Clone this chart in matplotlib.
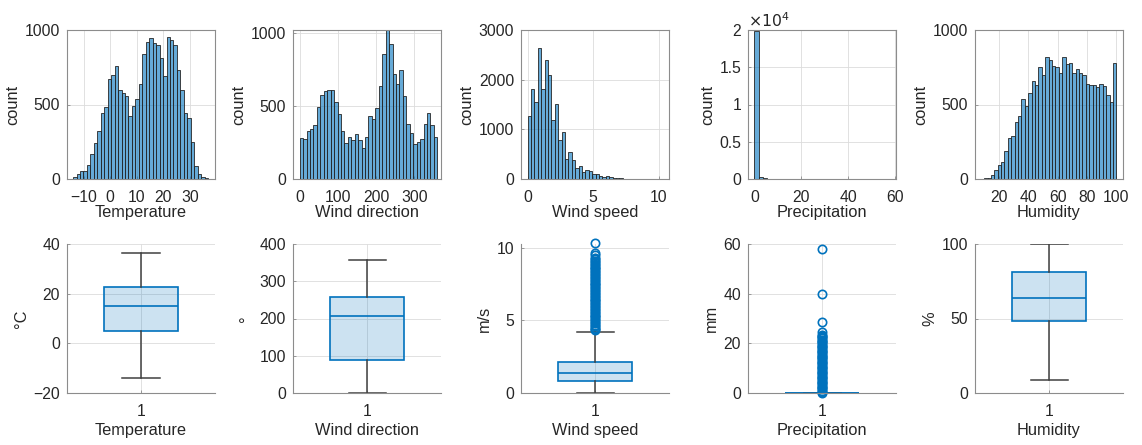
import numpy as np
import matplotlib
matplotlib.use("Agg")
import matplotlib.pyplot as plt

plt.rcParams['font.family'] = ['Liberation Sans', 'DejaVu Sans']

names = ['Temperature', 'Wind direction', 'Wind speed', 'Precipitation', 'Humidity']
units = ['°C', '°', 'm/s', 'mm', '%']

# histogram counts (bin ranges: first edge, last edge)
temp_counts = [15, 35, 55, 55, 95, 170, 240, 320, 440, 480, 670, 700, 760, 600, 580, 560,
               420, 490, 540, 640, 840, 920, 945, 910, 900, 810, 690, 950, 935, 900, 730,
               600, 440, 410, 250, 90, 35, 15, 5]
temp_range = (-14.0, 36.8)

wdir_counts = [282, 271, 327, 343, 372, 492, 576, 598, 609, 605, 524, 447, 330, 244, 289,
               266, 307, 266, 210, 289, 433, 411, 488, 634, 853, 1018, 921, 718, 650, 745,
               567, 375, 316, 239, 255, 271, 375, 451, 368, 284]
wdir_range = (0.0, 360.0)

wspd_counts = [1278, 1822, 1553, 2643, 1816, 2387, 2085, 1183, 1513, 780, 955, 410, 545,
               377, 222, 269, 141, 188, 161, 101, 94, 54, 47, 54, 34, 27, 15, 12, 9, 7, 5,
               4, 3, 3, 2, 2, 1, 1, 1, 1]
wspd_range = (0.0, 10.4)

prec_counts = [19800, 230, 70, 40, 25, 15, 10, 8, 6, 4, 3, 3, 2, 1, 1, 1, 1, 0, 0, 0, 0,
               1, 0, 0, 0, 0, 0, 1, 0, 0, 0, 1]
prec_range = (0.0, 58.0)

hum_counts = [2, 3, 5, 8, 25, 63, 96, 112, 190, 276, 287, 383, 421, 534, 493, 578, 657,
              628, 753, 695, 821, 796, 758, 751, 709, 818, 773, 776, 709, 735, 713, 695,
              635, 628, 628, 619, 639, 623, 567, 518, 776]
hum_range = (5.2, 100.0)

hist_counts = [temp_counts, wdir_counts, wspd_counts, prec_counts, hum_counts]
hist_ranges = [temp_range, wdir_range, wspd_range, prec_range, hum_range]
hist_xlim = [(-16.3, 39.4), (-17.4, 369.6), (-0.5, 10.8), (-2.7, 60.4), (3.6, 104.5)]
hist_ylim = [(0, 1000), (0, 1018), (0, 3000), (0, 20000), (0, 1000)]
hist_xticks = [[-10, 0, 10, 20, 30], [0, 100, 200, 300], [0, 5, 10], [0, 20, 40, 60],
               [20, 40, 60, 80, 100]]
hist_yticks = [[0, 500, 1000], [0, 500, 1000], [0, 1000, 2000, 3000],
               [0, 5000, 10000, 15000, 20000], [0, 500, 1000]]

# box chart statistics
box_q1 = [5.0, 88.0, 0.8, 0.0, 48.0]
box_med = [15.0, 208.0, 1.4, 0.0, 64.0]
box_q3 = [22.7, 258.0, 2.1, 0.0, 81.0]
box_lo = [-14.0, 0.0, 0.0, 0.0, 9.0]
box_hi = [36.5, 358.0, 4.2, 0.0, 100.0]
wspd_out = [4.3, 4.4, 4.5, 4.6, 4.7, 4.8, 4.9, 5.0, 5.1, 5.2, 5.3, 5.4, 5.5, 5.6, 5.7, 5.8,
            5.9, 6.0, 6.1, 6.2, 6.3, 6.4, 6.5, 6.6, 6.7, 6.8, 6.9, 7.0, 7.1, 7.2, 7.3, 7.4,
            7.5, 7.6, 7.7, 7.8, 7.9, 8.0, 8.1, 8.2, 8.3, 8.4, 8.5, 8.6, 8.7, 8.8, 8.9, 9.0,
            9.1, 9.2, 9.3, 9.5, 9.6, 10.3]
prec_out = [0.2, 0.6, 1, 1.5, 2, 2.5, 3, 3.5, 4, 4.5, 5, 5.5, 6, 6.5, 7, 7.5, 8, 8.5, 9,
            9.5, 10, 10.5, 11, 11.5, 12, 12.5, 13, 13.5, 14, 14.5, 15, 15.5, 16, 16.5, 17,
            17.5, 18, 18.5, 19, 19.5, 20, 20.5, 21, 21.5, 22, 22.5, 23, 23.5, 24.5, 28.5,
            40, 58]
box_out = [[], [], wspd_out, prec_out, []]
box_ylim = [(-20, 40), (0, 400), (0, 10.25), (0, 60), (0, 100)]
box_yticks = [[-20, 0, 20, 40], [0, 100, 200, 300, 400], [0, 5, 10], [0, 20, 40, 60],
              [0, 50, 100]]

blue = '#0072BD'
txt = '#262626'
axc = '#8c8c8c'

W, H = 1142, 445
fig = plt.figure(figsize=(W / 100, H / 100), dpi=100)
lefts = [67, 293, 521, 748, 975]
aw, ah = 148, 149

def style(ax, full_box):
    for s in ax.spines.values():
        s.set_color(axc)
        s.set_linewidth(0.8)
    if not full_box:
        ax.spines['top'].set_visible(False)
        ax.spines['right'].set_visible(False)
    ax.tick_params(direction='in', length=2.5, width=0.6, colors=axc, labelcolor=txt,
                   labelsize=11.3)
    ax.tick_params(axis='x', pad=8)
    ax.tick_params(axis='y', pad=5)
    ax.grid(True, color='#dcdcdc', linewidth=0.6)
    ax.set_axisbelow(True)

for i in range(5):
    # top row: histograms
    ax = fig.add_axes([lefts[i] / W, 1 - 179 / H, aw / W, ah / H])
    counts = hist_counts[i]
    edges = np.linspace(hist_ranges[i][0], hist_ranges[i][1], len(counts) + 1)
    ax.bar(edges[:-1], counts, width=np.diff(edges), align='edge',
           facecolor=(0, 0.447, 0.741, 0.6), edgecolor=txt, linewidth=0.6)
    ax.set_xlim(hist_xlim[i])
    ax.set_ylim(hist_ylim[i])
    ax.set_xticks(hist_xticks[i])
    ax.set_yticks(hist_yticks[i])
    if i == 3:
        ax.set_yticklabels(['0', '0.5', '1', '1.5', '2'])
        ax.text(0.0, 1.0, r'$\times10^{4}$', transform=ax.transAxes, fontsize=11.3,
                color=txt, ha='left', va='bottom')
    style(ax, True)
    ax.set_xlabel(names[i], fontsize=11.8, color=txt, labelpad=0)
    ax.set_ylabel('count', fontsize=11.8, color=txt, labelpad=3)

    # bottom row: box charts
    bx = fig.add_axes([lefts[i] / W, 1 - 393 / H, aw / W, ah / H])
    stats = [dict(med=box_med[i], q1=box_q1[i], q3=box_q3[i], whislo=box_lo[i],
                  whishi=box_hi[i], fliers=box_out[i])]
    parts = bx.bxp(stats, positions=[1], widths=0.5, capwidths=0.25, patch_artist=True,
                   boxprops=dict(facecolor=(0, 0.447, 0.741, 0.2), edgecolor=blue,
                                 linewidth=1.2),
                   medianprops=dict(color=blue, linewidth=1.2),
                   whiskerprops=dict(color='#404040', linewidth=1.1),
                   capprops=dict(color='#404040', linewidth=1.1),
                   flierprops=dict(marker='o', markersize=6, markerfacecolor='none',
                                   markeredgecolor=blue, markeredgewidth=1.2))
    for f in parts['fliers']:
        f.set_clip_on(False)
    bx.set_xlim(0.5, 1.5)
    bx.set_xticks([1])
    bx.set_xticklabels(['1'])
    bx.set_ylim(box_ylim[i])
    bx.set_yticks(box_yticks[i])
    style(bx, False)
    bx.set_xlabel(names[i], fontsize=11.8, color=txt, labelpad=3)
    bx.set_ylabel(units[i], fontsize=11.8, color=txt, labelpad=3)

fig.savefig('out.png', dpi=100)
